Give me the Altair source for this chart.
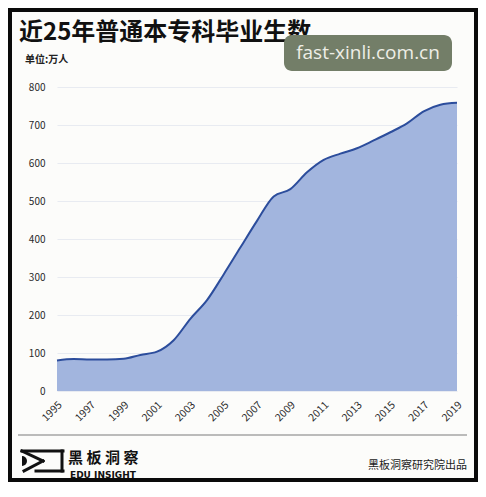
import altair as alt
import pandas as pd

# ---- data ----
years = list(range(1995, 2020))
graduates = [80.5, 83.9, 82.9, 83.0, 84.8, 95.0, 103.6, 133.7, 190.0, 239.1,
             306.8, 377.5, 447.8, 511.9, 531.1, 575.4, 608.2, 624.7, 638.7,
             659.4, 680.9, 704.2, 735.8, 753.3, 758.5]
tick_years = list(range(1995, 2020, 2))
y_ticks = list(range(0, 900, 100))

title_text = "近25年普通本专科毕业生数"
unit_text = "单位:万人"
watermark_text = "fast-xinli.com.cn"
logo_cn = "黑板洞察"
logo_en = "EDU INSIGHT"
credit_text = "黑板洞察研究院出品"

df = pd.DataFrame({"year": years, "value": graduates})
one = pd.DataFrame({"k": [0]})

CJK = "Noto Sans CJK SC"

x_enc = alt.X("year:Q",
              scale=alt.Scale(domain=[1995, 2019], nice=False, zero=False),
              axis=alt.Axis(values=tick_years, format="d", title=None,
                            labelAngle=315, labelAlign="right",
                            labelBaseline="middle", labelPadding=12,
                            labelOffset=3,
                            labelFontSize=10.5, labelColor="#2a2a2a",
                            labelFont=CJK, domain=False, ticks=False,
                            tickSize=0, grid=False, labelOverlap=False,
                            labelFlush=False))
y_enc = alt.Y("value:Q",
              scale=alt.Scale(domain=[0, 800], nice=False),
              axis=alt.Axis(values=y_ticks, title=None, domain=False,
                            ticks=False, tickSize=0, labelPadding=12,
                            labelFontSize=10, labelColor="#2a2a2a",
                            labelFont=CJK, grid=True, gridColor="#e8ebf1",
                            gridWidth=1, labelOverlap=False,
                            labelFlush=False))

area = alt.Chart(df).mark_area(
    interpolate="monotone", color="#a2b5de", opacity=1,
    line=alt.OverlayMarkDef(color="#2c4d9c", strokeWidth=2),
).encode(x=x_enc, y=y_enc)

base = alt.Chart(one)

frame = base.mark_rect(fill=None, stroke="#0a0a0a", strokeWidth=4).encode(
    x=alt.value(-47), x2=alt.value(419), y=alt.value(-77), y2=alt.value(393))

title = base.mark_text(text=title_text, font=CJK, fontSize=24,
                       fontWeight="bold", color="#111111", align="left",
                       baseline="alphabetic").encode(
    x=alt.value(-38), y=alt.value(-47))
unit = base.mark_text(text=unit_text, font=CJK, fontSize=10,
                      fontWeight="bold", color="#222222", align="left",
                      baseline="alphabetic").encode(
    x=alt.value(-32), y=alt.value(-24))

wm_box = base.mark_rect(color="#737e68", cornerRadius=8).encode(
    x=alt.value(227), x2=alt.value(395), y=alt.value(-52), y2=alt.value(-16))
wm_text = base.mark_text(text=watermark_text, font="Open Sans", fontSize=19,
                         color="#eeeee6", align="center",
                         baseline="middle").encode(
    x=alt.value(311), y=alt.value(-34))

footer_rule = base.mark_rule(color="#7a7a7a", strokeWidth=1).encode(
    x=alt.value(-39), x2=alt.value(410), y=alt.value(348))

# logo strokes
logo_parts = []
for (x1, y1, x2, y2) in [(-35, 364, 6, 364), (5, 364, 5, 384),
                         (-21, 384, 6, 384), (-35, 364, -14, 374),
                         (-14, 374, -33, 384)]:
    logo_parts.append(base.mark_rule(color="#111111", strokeWidth=3,
                                     strokeCap="square").encode(
        x=alt.value(x1), y=alt.value(y1), x2=alt.value(x2), y2=alt.value(y2)))
logo_dot = base.mark_arc(color="#111111", theta=0, theta2=3.1416,
                         outerRadius=5).encode(x=alt.value(-35), y=alt.value(374))

# spaced-out logo characters
logo_chars = []
for i, ch in enumerate(logo_cn):
    logo_chars.append(base.mark_text(text=ch, font=CJK, fontSize=15,
                                     fontWeight="bold", color="#111111",
                                     align="left", baseline="top").encode(
        x=alt.value(11 + i * 18.5), y=alt.value(364)))
logo_en_t = base.mark_text(text=logo_en, font="DejaVu Sans", fontSize=9,
                           fontWeight="bold", color="#111111", align="left",
                           baseline="alphabetic").encode(
    x=alt.value(13), y=alt.value(391))
credit = base.mark_text(text=credit_text, font=CJK, fontSize=11,
                        color="#222222", align="right",
                        baseline="alphabetic").encode(
    x=alt.value(410), y=alt.value(382))

chart = alt.layer(area, frame, title, unit, wm_box, wm_text,
                  footer_rule, *logo_parts, logo_dot, *logo_chars, logo_en_t,
                  credit).properties(
    width=400, height=304,
    padding={"left": 49, "top": 79, "right": 21, "bottom": 91},
    autosize=alt.AutoSizeParams(type="none"),
    background="#fcfcfa",
).configure_view(stroke=None).configure_axis(labelOverlap=False)

chart.save("out.html", embed_options={"renderer": "svg", "actions": False})
